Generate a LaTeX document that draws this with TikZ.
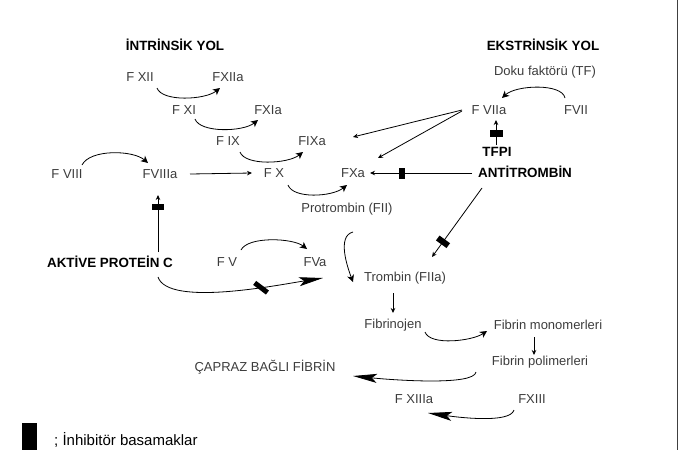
\documentclass[tikz,border=0pt]{standalone}
\usepackage{fontspec}
\setmainfont{Liberation Sans}
\usetikzlibrary{arrows.meta}
\definecolor{textgray}{RGB}{60,60,60}
\tikzset{
  lbl/.style={font=\fontsize{13}{15}\selectfont, text=textgray, inner sep=1pt},
  hdr/.style={font=\bfseries\fontsize{13.4}{15}\selectfont, text=black, inner sep=1pt},
  conn/.style={line width=0.8pt, draw=black},
  arcarrow/.style={conn, -{Stealth[length=7pt,width=7pt,inset=2pt]}},
  linearrow/.style={conn, -{Stealth[length=5pt,width=4.5pt]}},
  bigarrow/.style={conn, -{Stealth[length=24pt,width=9pt,inset=5pt]}},
  inhib/.style={rectangle, fill=black, draw=none, inner sep=0pt, sloped, minimum width=6pt, minimum height=13pt}
}
\begin{document}
\begin{tikzpicture}[x=1pt,y=-1pt]
\useasboundingbox (0,0) rectangle (679,450);
% right frame line
\draw[line width=1pt, black!75] (677,0) -- (677,450);

% headers
\node[hdr] (intr) at (175,45) {İNTRİNSİK YOL};
\node[hdr] (ekst) at (543,45) {EKSTRİNSİK YOL};
\node[hdr] (tfpi) at (497,152) {TFPI};
\node[hdr] (anti) at (525,172) {ANTİTROMBİN};
\node[hdr] (apc) at (110,262) {AKTİVE PROTEİN C};

% factors
\node[lbl] (fxii) at (140,77) {F XII};
\node[lbl] (fxiia) at (228,77) {FXIIa};
\node[lbl] (fxi) at (184,110) {F XI};
\node[lbl] (fxia) at (268,110) {FXIa};
\node[lbl] (fix) at (228,141) {F IX};
\node[lbl] (fixa) at (312,141) {FIXa};
\node[lbl] (fviii) at (67,174) {F VIII};
\node[lbl] (fviiia) at (160,174) {FVIIIa};
\node[lbl] (fx) at (274,173) {F X};
\node[lbl] (fxa) at (353,173) {FXa};
\node[lbl] (prot) at (347,209) {Protrombin (FII)};
\node[lbl] (fv) at (227,262) {F V};
\node[lbl] (fva) at (315,262) {FVa};
\node[lbl] (trom) at (405,278) {Trombin (FIIa)};
\node[lbl] (fibj) at (393,325) {Fibrinojen};
\node[lbl] (fmon) at (548,325) {Fibrin monomerleri};
\node[lbl] (fpol) at (540,362) {Fibrin polimerleri};
\node[lbl] (capraz) at (265,367) {ÇAPRAZ BAĞLI FİBRİN};
\node[lbl] (fxiiia) at (414,399) {F XIIIa};
\node[lbl] (fxiii) at (532,399) {FXIII};
\node[lbl] (tf) at (545,72) {Doku faktörü (TF)};
\node[lbl] (fviia) at (489,110) {F VIIa};
\node[lbl] (fvii) at (576,110) {FVII};

% activation arcs
\draw[arcarrow] ([shift={(17,11)}]fxii.center) .. controls +(5,14) and +(-15,12) .. ([shift={(-8,11)}]fxiia.center);
\draw[arcarrow] ([shift={(11,9)}]fxi.center) .. controls +(5,14) and +(-15,12) .. ([shift={(-10,10)}]fxia.center);
\draw[arcarrow] ([shift={(12,11)}]fix.center) .. controls +(5,14) and +(-15,12) .. ([shift={(-9,11)}]fixa.center);
\draw[arcarrow] ([shift={(14,12)}]fx.center) .. controls +(5,14) and +(-15,12) .. ([shift={(-6,12)}]fxa.center);
\draw[arcarrow] ([shift={(15,-9)}]fviii.center) .. controls +(8,-16) and +(-15,-13) .. ([shift={(-12,-11)}]fviiia.center);
\draw[arcarrow] ([shift={(14,-12)}]fv.center) .. controls +(7,-14) and +(-14,-11) .. ([shift={(-8,-13)}]fva.center);
\draw[arcarrow] ([shift={(-11,-12)}]fvii.center) .. controls +(-3,-15) and +(14,-13) .. ([shift={(13,-12)}]fviia.center);
\draw[arcarrow] ([shift={(6,23)}]prot.center) .. controls +(-16,4) and +(-6,-16) .. ([shift={(-52,4)}]trom.center);
\draw[arcarrow] ([shift={(32,7)}]fibj.center) .. controls +(5,14) and +(-15,10) .. ([shift={(-61,6)}]fmon.center);
\draw[bigarrow] ([shift={(-64,10)}]fpol.center) .. controls +(-2,14) and +(40,4) .. ([shift={(88,9)}]capraz.center);
\draw[bigarrow] ([shift={(-18,11)}]fxiii.center) .. controls +(-4,14) and +(28,4) .. ([shift={(14,14)}]fxiiia.center);
\draw[bigarrow] ([shift={(48,15)}]apc.center) .. controls +(10,30) and +(-45,7) .. node[pos=0.66, rectangle, fill=black, inner sep=0pt, minimum width=16pt, minimum height=5pt, rotate=-37] {} ([shift={(8,16)}]fva.center);

% straight connectors
\draw[linearrow] ([shift={(30,0)}]fviiia.center) -- ([shift={(-22,0)}]fx.center);
\draw[linearrow] ([shift={(-27,0)}]fviia.center) -- ([shift={(41,-4)}]fixa.center);
\draw[linearrow] ([shift={(-27,1)}]fviia.center) -- ([shift={(25,-15)}]fxa.center);
\draw[linearrow] ([shift={(-53,1)}]anti.center) -- node[inhib, pos=0.69, minimum height=11pt] {} ([shift={(17,0)}]fxa.center);
\draw[linearrow] ([shift={(-1,-7)}]tfpi.center) -- node[inhib, pos=0.48, minimum width=7pt] {} ([shift={(7,10)}]fviia.center);
\draw[linearrow] ([shift={(-43,16)}]anti.center) -- node[inhib, pos=0.78] {} ([shift={(27,-21)}]trom.center);
\draw[linearrow] ([shift={(48,-10)}]apc.center) -- node[inhib, pos=0.79, minimum height=12pt] {} ([shift={(-2,21)}]fviiia.center);
\draw[linearrow] ([shift={(-12,15)}]trom.center) -- ([shift={(0,-12)}]fibj.center);
\draw[linearrow] ([shift={(-14,12)}]fmon.center) -- ([shift={(-6,-7)}]fpol.center);

% legend
\node[rectangle, fill=black, inner sep=0pt, minimum width=15pt, minimum height=27pt] (legbox) at (29.5,436.5) {};
\node[anchor=west, inner sep=1pt, font=\fontsize{15}{17}\selectfont] (legtxt) at (53,440) {; İnhibitör basamaklar};
\end{tikzpicture}
\end{document}
